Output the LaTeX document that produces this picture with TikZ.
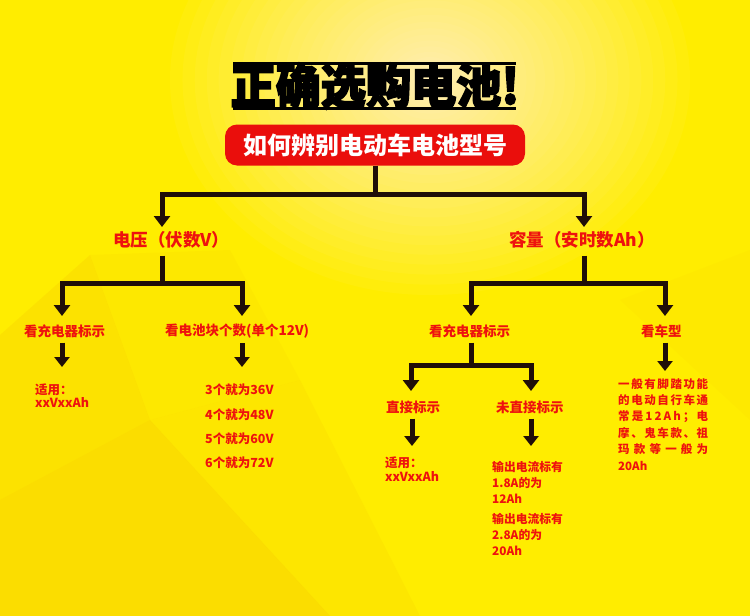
\documentclass[tikz,border=0pt]{standalone}
\usepackage{fontspec}
\usepackage{graphicx}
\setmainfont{Noto Sans CJK SC}
\newfontfamily\heavy{Noto Sans CJK SC}[BoldFeatures={FakeBold=3.5}]
\usetikzlibrary{arrows.meta,fadings}
\definecolor{bg}{RGB}{255,237,0}
\definecolor{bgo}{RGB}{245,190,0}
\definecolor{txtred}{RGB}{238,18,14}
\definecolor{boxred}{RGB}{234,14,12}
\definecolor{linec}{RGB}{32,14,8}
\definecolor{fireA}{RGB}{255,215,100}
\definecolor{fireB}{RGB}{245,120,20}
\definecolor{fireC}{RGB}{180,26,10}
\definecolor{fireD}{RGB}{70,8,4}
\begin{tikzfadingfrompicture}[name=titlefade]
  \node[text=transparent!0, inner sep=0pt, font=\heavy\bfseries\fontsize{48}{48}\selectfont] {\scalebox{0.94}[1]{正确选购电池!}};
\end{tikzfadingfrompicture}
\tikzset{
  ln/.style={line width=5pt, draw=linec, line join=miter},
  arr/.style={ln, -{Triangle[width=16pt,length=11pt]}},
  sarr/.style={ln, -{Triangle[width=15pt,length=10pt]}},
  lvlone/.style={text=txtred, font=\bfseries\fontsize{17.5}{17.5}\selectfont, inner sep=0pt, anchor=west},
  lvltwo/.style={text=txtred, font=\bfseries\fontsize{13.5}{13.5}\selectfont, inner sep=0pt, anchor=west},
  body/.style={text=txtred, font=\bfseries\fontsize{12.5}{16.4}\selectfont, inner sep=0pt, anchor=north west, align=left},
  fire/.style={path fading=titlefade, fit fading=false, fading transform={xshift=-10pt, yshift=12pt}},
}
\begin{document}
\begin{tikzpicture}[x=1pt,y=-1pt]
\useasboundingbox (0,0) rectangle (750,616);
% background
\fill[bg] (0,0) rectangle (750,616);
\fill[bgo,opacity=0.22] (0,335) -- (90,255) -- (150,420) -- (0,500) -- cycle;
\fill[bgo,opacity=0.32] (0,500) -- (150,420) -- (330,616) -- (0,616) -- cycle;
\fill[bgo,opacity=0.14] (150,420) -- (300,380) -- (420,616) -- (330,616) -- cycle;
\fill[bgo,opacity=0.10] (90,255) -- (230,250) -- (300,380) -- (150,420) -- cycle;
\fill[bgo,opacity=0.08] (620,300) -- (750,250) -- (750,420) -- cycle;
\foreach \i in {0,...,29}{
  \fill[white, opacity=0.045] (430,80) ellipse ({260*(1-\i/31)^1.5} and {215*(1-\i/31)^1.5});
}
% title
\draw[line width=3pt, black] (233,63) -- (516,63);
\draw[line width=3.5pt, black] (233,108.5) -- (516,108.5);
\node[font=\heavy\bfseries\fontsize{48}{48}\selectfont, text=black, inner sep=0pt] (title) at (375,86) {\scalebox{0.94}[1]{正确选购电池!}};
\fill[fire, fireD] ([xshift=10pt,yshift=-12pt]title.center) ellipse (150 and 30);
\fill[fire, fireD!45!fireC] ([xshift=10pt,yshift=-12pt]title.center) ellipse (125 and 26);
\fill[fire, fireC] ([xshift=10pt,yshift=-12pt]title.center) ellipse (100 and 22);
\fill[fire, fireC!50!fireB] ([xshift=10pt,yshift=-12pt]title.center) ellipse (78 and 18);
\fill[fire, fireB] ([xshift=10pt,yshift=-12pt]title.center) ellipse (58 and 14);
\fill[fire, fireB!50!fireA] ([xshift=10pt,yshift=-12pt]title.center) ellipse (40 and 11);
\fill[fire, fireA] ([xshift=10pt,yshift=-12pt]title.center) ellipse (24 and 8);
% root
\node[fill=boxred, rounded corners=12pt, minimum width=300pt, minimum height=41pt, inner sep=0pt,
      text=white, font=\bfseries\fontsize{24}{24}\selectfont] (root) at (375,145) {如何辨别电动车电池型号};
% junction and tip coordinates
\coordinate (j1) at (375,194);
\coordinate (vin) at (162,227);
\coordinate (cin) at (584,227);
\coordinate (j2) at (162,283);
\coordinate (j3) at (584,283);
\coordinate (l1in) at (62,316);
\coordinate (l2in) at (242,316);
\coordinate (r1in) at (471,316);
\coordinate (r2in) at (665,316);
\coordinate (j4) at (471,365);
\coordinate (d1in) at (411,391);
\coordinate (d2in) at (531,391);
\coordinate (t1in) at (62,367);
\coordinate (t2in) at (242,367);
\coordinate (v1in) at (665,371);
\coordinate (u1in) at (412,446);
\coordinate (u2in) at (531,446);
% level 1
\node[lvlone] (volt) at (113,240) {电压（伏数V）};
\node[lvlone] (cap) at (509,240) {容量（安时数Ah）};
% level 2
\node[lvltwo] (l1) at (24,331) {看充电器标示};
\node[lvltwo] (l2) at (165,331) {看电池块个数(单个12V)};
\node[lvltwo] (r1) at (429,331) {看充电器标示};
\node[lvltwo] (r2) at (641,331) {看车型};
\node[lvltwo] (d1) at (386,407) {直接标示};
\node[lvltwo] (d2) at (496,407) {未直接标示};
% bodies
\node[body, font=\bfseries\fontsize{12.5}{13}\selectfont] (t1) at (35,384) {适用：\\xxVxxAh};
\node[body, font=\bfseries\fontsize{12.5}{24.3}\selectfont] (t2) at (205,384) {3个就为36V\\4个就为48V\\5个就为60V\\6个就为72V};
\node[body, font=\bfseries\fontsize{12.5}{13.5}\selectfont] (u1) at (385,457) {适用：\\xxVxxAh};
\node[body, font=\bfseries\fontsize{11.8}{16.2}\selectfont] (u2) at (492,461) {输出电流标有\\1.8A的为\\12Ah\\[3.5pt]输出电流标有\\2.8A的为\\20Ah};
\node[body, font=\bfseries\fontsize{11.5}{16.4}\selectfont] (v1) at (618,378) {%
\hbox to 90pt{一\hfill 般\hfill 有\hfill 脚\hfill 踏\hfill 功\hfill 能}\\
\hbox to 90pt{的\hfill 电\hfill 动\hfill 自\hfill 行\hfill 车\hfill 通}\\
\hbox to 90pt{常\hfill 是\hfill 1\hfill 2\hfill A\hfill h\hfill ；\hfill 电}\\
\hbox to 90pt{摩\hfill 、\hfill 鬼\hfill 车\hfill 款\hfill 、\hfill 祖}\\
\hbox to 90pt{玛\hfill 款\hfill 等\hfill 一\hfill 般\hfill 为}\\
20Ah};
% connectors
\draw[arr] (root.south) -- (j1) -| (vin);
\draw[arr] (root.south) -- (j1) -| (cin);
\draw[arr, shorten <=7pt] (volt.south -| j2) -- (j2) -| (l1in);
\draw[arr] (j2) -| (l2in);
\draw[arr, shorten <=7pt] (cap.south -| j3) -- (j3) -| (r1in);
\draw[arr] (j3) -| (r2in);
\draw[sarr, shorten <=5pt] (l1.south -| t1in) -- (t1in);
\draw[sarr, shorten <=5pt] (l2.south -| t2in) -- (t2in);
\draw[sarr, shorten <=5pt] (r2.south -| v1in) -- (v1in);
\draw[ln, shorten <=5pt] (r1.south -| j4) -- (j4);
\draw[arr] (j4) -| (d1in);
\draw[arr] (j4) -| (d2in);
\draw[sarr, shorten <=5pt] (d1.south -| u1in) -- (u1in);
\draw[sarr, shorten <=5pt] (d2.south -| u2in) -- (u2in);
\end{tikzpicture}
\end{document}
